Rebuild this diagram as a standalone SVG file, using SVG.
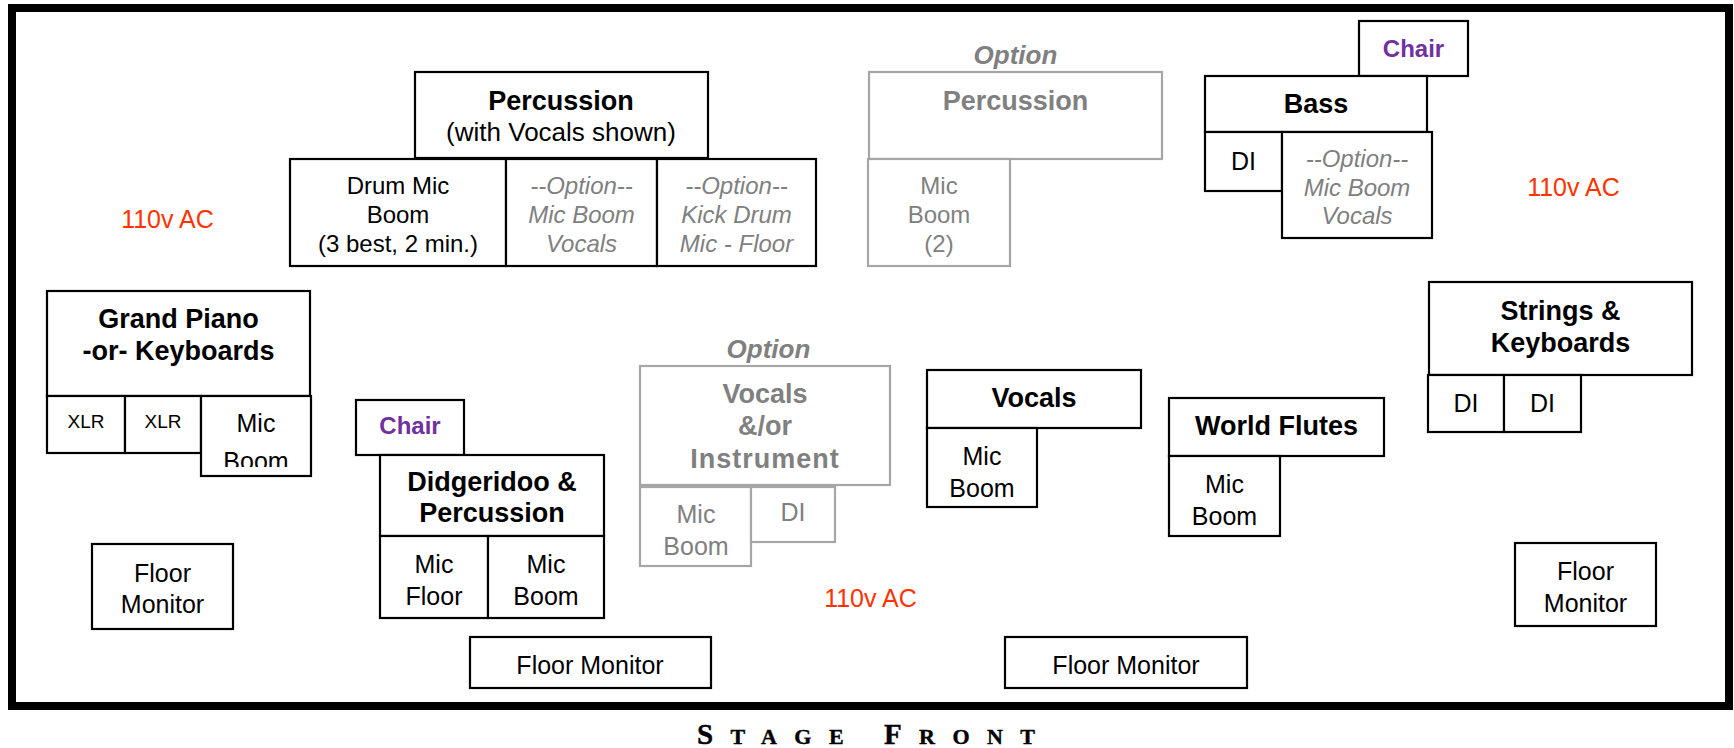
<svg xmlns="http://www.w3.org/2000/svg" width="1734" height="748" viewBox="0 0 1734 748">
<style>
text{font-family:"Liberation Sans",Arial,sans-serif;text-anchor:middle;fill:#000}
.b{fill:#fff;stroke:#000;stroke-width:2.2}
.g{fill:#fff;stroke:#a6a6a6;stroke-width:2.2}
.t{font-weight:bold;font-size:27px}
.r{font-size:25px}
.s{font-size:24px}
.i{font-style:italic;font-size:24px;fill:#808080}
.gt{fill:#808080}
.opt{font-weight:bold;font-style:italic;font-size:26px;fill:#808080}
.chair{font-weight:bold;font-size:24px;fill:#7030a0}
.ac{font-size:25px;fill:#ff3300}
</style>
<defs>
<clipPath id="clipPB"><rect x="201" y="396" width="110" height="71"/></clipPath>
</defs>
<rect id="stage" x="12" y="8" width="1717" height="698" fill="#fff" stroke="#000" stroke-width="8"/>
<g id="connectors"/>
<g id="percussion">
<rect class="b" x="415" y="72" width="293" height="86"/>
<text class="t" x="561" y="110">Percussion</text>
<text style="font-size:26px" x="561" y="141">(with Vocals shown)</text>
</g>
<g id="drum-mic">
<rect class="b" x="290" y="159" width="216" height="107"/>
<text class="s" x="398" y="194">Drum Mic</text>
<text class="s" x="398" y="223">Boom</text>
<text class="s" x="398" y="252">(3 best, 2 min.)</text>
</g>
<g id="perc-option-vocals">
<rect class="b" x="506" y="159" width="151" height="107"/>
<text class="i" x="581.5" y="194">--Option--</text>
<text class="i" x="581.5" y="223">Mic Boom</text>
<text class="i" x="581.5" y="252">Vocals</text>
</g>
<g id="kick-drum">
<rect class="b" x="657" y="159" width="159" height="107"/>
<text class="i" x="736.5" y="194">--Option--</text>
<text class="i" x="736.5" y="223">Kick Drum</text>
<text class="i" x="736.5" y="252">Mic - Floor</text>
</g>
<g id="option-percussion">
<text class="opt" x="1015.5" y="64">Option</text>
<rect class="g" x="869" y="72" width="293" height="87"/>
<text class="t gt" x="1015.5" y="110">Percussion</text>
</g>
<g id="mic-boom-2">
<rect class="g" x="868" y="159" width="142" height="107"/>
<text class="s gt" x="939" y="194">Mic</text>
<text class="s gt" x="939" y="223">Boom</text>
<text class="s gt" x="939" y="252">(2)</text>
</g>
<g id="chair-bass">
<rect class="b" x="1359" y="21" width="109" height="55"/>
<text class="chair" x="1413.5" y="57">Chair</text>
</g>
<g id="bass">
<rect class="b" x="1205" y="76" width="222" height="56"/>
<text class="t" x="1316" y="113">Bass</text>
</g>
<g id="bass-di">
<rect class="b" x="1205" y="132" width="77" height="59"/>
<text class="r" x="1243.5" y="170">DI</text>
</g>
<g id="bass-option-vocals">
<rect class="b" x="1282" y="132" width="150" height="106"/>
<text class="i" x="1357" y="167">--Option--</text>
<text class="i" x="1357" y="196">Mic Boom</text>
<text class="i" x="1357" y="224">Vocals</text>
</g>
<g id="ac-left"><text class="ac" x="167.5" y="228">110v AC</text></g>
<g id="ac-right"><text class="ac" x="1573.5" y="196">110v AC</text></g>
<g id="ac-middle"><text class="ac" x="870.5" y="607">110v AC</text></g>
<g id="grand-piano">
<rect class="b" x="47" y="291" width="263" height="105"/>
<text class="t" x="178.5" y="328">Grand Piano</text>
<text class="t" x="178.5" y="360">-or- Keyboards</text>
</g>
<g id="xlr-1">
<rect class="b" x="47" y="396" width="78" height="57"/>
<text style="font-size:19px" x="86" y="428">XLR</text>
</g>
<g id="xlr-2">
<rect class="b" x="125" y="396" width="76" height="57"/>
<text style="font-size:19px" x="163" y="428">XLR</text>
</g>
<g id="piano-mic-boom">
<rect class="b" x="201" y="396" width="110" height="80"/>
<text class="r" x="256" y="432">Mic</text>
<text class="r" x="256" y="470" clip-path="url(#clipPB)">Boom</text>
</g>
<g id="chair-didg">
<rect class="b" x="356" y="400" width="108" height="55"/>
<text class="chair" x="410" y="434">Chair</text>
</g>
<g id="didgeridoo">
<rect class="b" x="380" y="455" width="224" height="81"/>
<text class="t" x="492" y="491">Didgeridoo &amp;</text>
<text class="t" x="492" y="522">Percussion</text>
</g>
<g id="didg-mic-floor">
<rect class="b" x="380" y="536" width="108" height="82"/>
<text class="r" x="434" y="573">Mic</text>
<text class="r" x="434" y="605">Floor</text>
</g>
<g id="didg-mic-boom">
<rect class="b" x="488" y="536" width="116" height="82"/>
<text class="r" x="546" y="573">Mic</text>
<text class="r" x="546" y="605">Boom</text>
</g>
<g id="floor-monitor-left">
<rect class="b" x="92" y="544" width="141" height="85"/>
<text class="r" x="162.5" y="582">Floor</text>
<text class="r" x="162.5" y="613">Monitor</text>
</g>
<g id="option-vocals-instrument">
<text class="opt" x="768.5" y="358">Option</text>
<rect class="g" x="640" y="366" width="250" height="119"/>
<text class="t gt" x="765" y="403">Vocals</text>
<text class="t gt" x="765" y="435">&amp;/or</text>
<text class="t gt" x="765" y="468" style="letter-spacing:1px">Instrument</text>
</g>
<g id="option-mic-boom">
<rect class="g" x="640" y="487" width="111" height="79"/>
<text class="r gt" x="696" y="523">Mic</text>
<text class="r gt" x="696" y="555">Boom</text>
</g>
<g id="option-di">
<rect class="g" x="751" y="487" width="84" height="55"/>
<text class="r gt" x="793" y="521">DI</text>
</g>
<g id="vocals">
<rect class="b" x="927" y="370" width="214" height="58"/>
<text class="t" x="1034" y="407">Vocals</text>
</g>
<g id="vocals-mic-boom">
<rect class="b" x="927" y="428" width="110" height="79"/>
<text class="r" x="982" y="465">Mic</text>
<text class="r" x="982" y="497">Boom</text>
</g>
<g id="world-flutes">
<rect class="b" x="1169" y="398" width="215" height="58"/>
<text class="t" x="1276.5" y="435">World Flutes</text>
</g>
<g id="flutes-mic-boom">
<rect class="b" x="1169" y="456" width="111" height="80"/>
<text class="r" x="1224.5" y="493">Mic</text>
<text class="r" x="1224.5" y="525">Boom</text>
</g>
<g id="strings-keyboards">
<rect class="b" x="1429" y="282" width="263" height="93"/>
<text class="t" x="1560.5" y="320">Strings &amp;</text>
<text class="t" x="1560.5" y="352">Keyboards</text>
</g>
<g id="strings-di-1">
<rect class="b" x="1428" y="375" width="76" height="57"/>
<text class="r" x="1466" y="412">DI</text>
</g>
<g id="strings-di-2">
<rect class="b" x="1504" y="375" width="77" height="57"/>
<text class="r" x="1542.5" y="412">DI</text>
</g>
<g id="floor-monitor-right">
<rect class="b" x="1515" y="543" width="141" height="83"/>
<text class="r" x="1585.5" y="580">Floor</text>
<text class="r" x="1585.5" y="612">Monitor</text>
</g>
<g id="floor-monitor-center-left">
<rect class="b" x="470" y="637" width="241" height="51"/>
<text class="r" x="590" y="674">Floor Monitor</text>
</g>
<g id="floor-monitor-center-right">
<rect class="b" x="1005" y="637" width="242" height="51"/>
<text class="r" x="1126" y="674">Floor Monitor</text>
</g>
<g id="stage-front">
<text x="697" y="744" style="font-family:'Liberation Serif','Times New Roman',serif;font-weight:bold;text-anchor:start;stroke:#000;stroke-width:0.4" textLength="338" lengthAdjust="spacing"><tspan font-size="29">S</tspan><tspan font-size="22">TAGE </tspan><tspan font-size="29">F</tspan><tspan font-size="22">RONT</tspan></text>
</g>
</svg>
